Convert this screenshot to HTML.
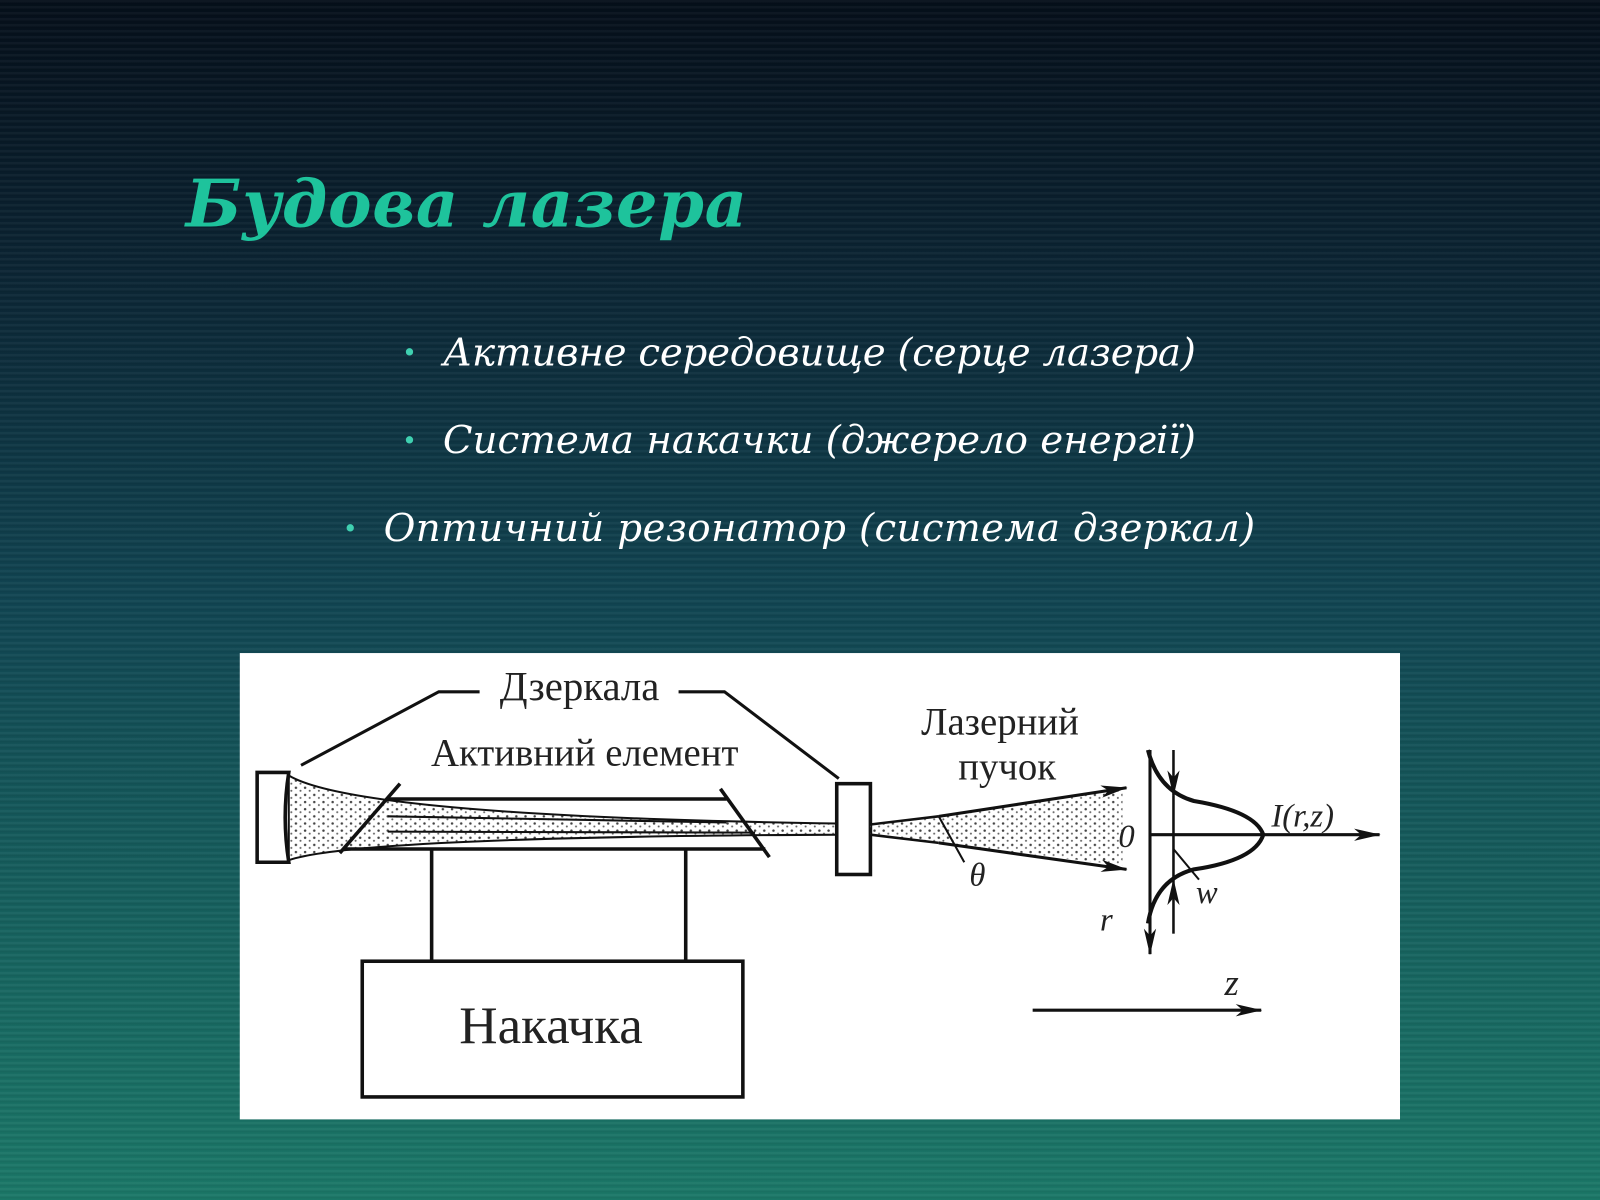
<!DOCTYPE html>
<html><head><meta charset="utf-8"><style>
html,body{margin:0;padding:0;width:1600px;height:1200px;overflow:hidden}
body{background:linear-gradient(180deg,#050f1a 0%,#0b2433 22%,#114552 50%,#176560 80%,#1b7868 100%)}
.st{position:absolute;left:0;top:0;width:1600px;height:1200px;background:repeating-linear-gradient(180deg,rgba(255,255,255,0.035) 0px,rgba(255,255,255,0.035) 2px,rgba(0,0,0,0.07) 3px,rgba(0,0,0,0) 6px)}
svg{position:absolute;left:0;top:0}
</style></head><body><div class="st"></div>
<svg width="1600" height="1200" viewBox="0 0 1568 1176" xmlns="http://www.w3.org/2000/svg">
<defs>
<pattern id="dots" width="9" height="7" patternUnits="userSpaceOnUse">
<circle cx="2" cy="2" r="1.2" fill="#444"/><circle cx="6.5" cy="5" r="1" fill="#666"/>
</pattern>
<marker id="ar" markerWidth="26" markerHeight="14" refX="25" refY="7" orient="auto" markerUnits="userSpaceOnUse">
<path d="M0,1 L26,7 L0,13 L7,7 Z" fill="#111"/></marker>
</defs>
<text x="182" y="222" textLength="550" font-family="DejaVu Serif, serif" font-weight="bold" font-style="italic" font-size="64" fill="#1ec39c">Будова лазера</text>
<g font-family="DejaVu Serif, serif" font-style="italic" font-size="38" fill="#fff">
<text x="434" y="358" textLength="738">Активне середовище (серце лазера)</text>
<text x="434" y="444" textLength="738">Система накачки (джерело енергії)</text>
<text x="376" y="530" textLength="854">Оптичний резонатор (система дзеркал)</text>
</g>
<g fill="#3fd0b0" font-size="30"><text x="396" y="355">•</text><text x="396" y="441">•</text><text x="338" y="527">•</text></g>
<rect x="235" y="640" width="1137" height="457" fill="#fff"/>
<g stroke="#111" stroke-width="3.5" fill="none">
<path d="M252,757 L283,757 Q276,801 283,845 L252,845 Z"/>
<path d="M283,760 Q350,800 820,807 L820,818 Q350,820 283,843 Z" fill="url(#dots)" stroke-width="2"/>
<line x1="380" y1="783" x2="712" y2="783"/>
<line x1="337" y1="832" x2="750" y2="832"/>
<line x1="392" y1="768" x2="333" y2="836"/>
<line x1="706" y1="773" x2="754" y2="840"/>
<line x1="380" y1="800" x2="712" y2="806" stroke-width="2"/>
<line x1="380" y1="815" x2="740" y2="816" stroke-width="2"/>
<line x1="423" y1="832" x2="423" y2="942"/>
<line x1="672" y1="832" x2="672" y2="942"/>
<rect x="355" y="942" width="373" height="133"/>
<rect x="820" y="768" width="33" height="89"/>
<polyline points="295,750 430,678 470,678" stroke-width="3"/>
<polyline points="665,678 710,678 822,763" stroke-width="3"/>
<path d="M853,808 L920,800 L1100,772 L1100,848 L920,826 L853,818 Z" fill="url(#dots)" stroke="none"/>
<line x1="853" y1="808" x2="920" y2="800" stroke-width="2.5"/>
<line x1="853" y1="818" x2="920" y2="826" stroke-width="2.5"/>
<line x1="920" y1="800" x2="1104" y2="772" stroke-width="3" marker-end="url(#ar)"/>
<line x1="920" y1="826" x2="1104" y2="852" stroke-width="3" marker-end="url(#ar)"/>
<line x1="920" y1="800" x2="945" y2="845" stroke-width="2"/>
<line x1="1127" y1="735" x2="1127" y2="935" stroke-width="3" marker-end="url(#ar)"/>
<line x1="1150" y1="735" x2="1150" y2="780" stroke-width="2.5" marker-end="url(#ar)"/>
<line x1="1150" y1="915" x2="1150" y2="862" stroke-width="2.5" marker-end="url(#ar)"/>
<line x1="1150" y1="780" x2="1150" y2="862" stroke-width="2.5"/>
<line x1="1127" y1="818" x2="1352" y2="818" stroke-width="3" marker-end="url(#ar)"/>
<path d="M1125,735 Q1135,775 1170,785 Q1230,795 1238,818 Q1230,843 1170,852 Q1132,862 1125,905" stroke-width="4"/>
<line x1="1150" y1="832" x2="1175" y2="862" stroke-width="2"/>
<line x1="1012" y1="990" x2="1236" y2="990" stroke-width="3" marker-end="url(#ar)"/>
</g>
<g font-family="Liberation Serif, DejaVu Serif, serif" fill="#222">
<text x="568" y="686" font-size="40" text-anchor="middle">Дзеркала</text>
<text x="573" y="750" font-size="38" text-anchor="middle">Активний елемент</text>
<text x="980" y="720" font-size="38" text-anchor="middle">Лазерний</text>
<text x="987" y="764" font-size="38" text-anchor="middle">пучок</text>
<text x="540" y="1022" font-size="52" text-anchor="middle">Накачка</text>
<g font-style="italic" font-size="32">
<text x="950" y="868">θ</text><text x="1096" y="830">0</text>
<text x="1078" y="912">r</text><text x="1172" y="885">w</text>
<text x="1246" y="810">I(r,z)</text><text x="1200" y="975" font-size="36">z</text>
</g></g>
</svg></body></html>
